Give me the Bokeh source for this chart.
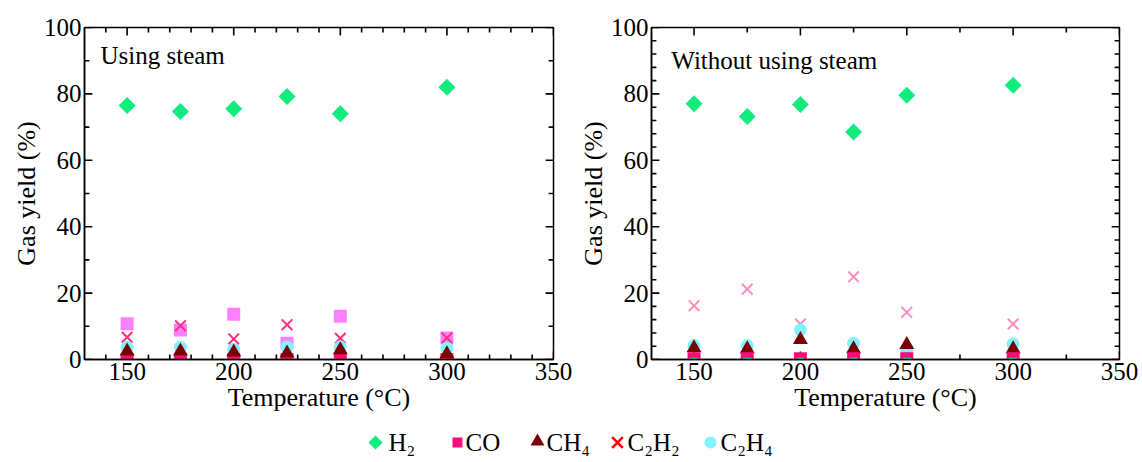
from bokeh.plotting import figure
from bokeh.models import Range1d, SingleIntervalTicker, Label
from bokeh.layouts import column, row
from bokeh.embed import file_html
from bokeh.resources import INLINE
from bokeh.core.properties import value

# ---------------- data ----------------
temps = [150, 175, 200, 225, 250, 300]

# Using steam (left panel)
steam_h2 = [76.5, 74.7, 75.5, 79.2, 74.0, 82.0]
steam_co = [0.0, 0.0, 0.0, 0.0, 0.0, 0.0]
steam_ch4 = [2.5, 2.5, 2.2, 1.9, 2.9, 1.7]
steam_c2h2 = [6.7, 10.2, 6.2, 10.5, 6.4, 6.5]
steam_c2h4 = [3.7, 3.7, 3.0, 3.8, 3.8, 3.4]
steam_extra_sq = [10.8, 8.9, 13.6, 4.9, 13.0, 6.5]

# Without using steam (right panel)
dry_h2 = [77.0, 73.2, 76.8, 68.5, 79.6, 82.6]
dry_co = [0.2, 0.2, 0.2, 0.2, 0.2, 0.2]
dry_ch4 = [3.5, 3.2, 6.0, 3.2, 4.5, 3.2]
dry_c2h2 = [16.2, 21.2, 10.7, 24.9, 14.2, 10.7]
dry_c2h4 = [4.2, 4.2, 8.9, 4.9, 3.0, 4.7]
dry_dash = [0.2, 0.2, 0.2, 0.2, 0.2, 0.2]

legend_labels = ["H\u2082", "CO", "CH\u2084", "C\u2082H\u2082", "C\u2082H\u2084"]
panel_titles = ["Using steam", "Without using steam"]
x_label = "Temperature (\u00b0C)"
y_label = "Gas yield (%)"

X_MIN, X_MAX, Y_MIN, Y_MAX = 130, 350, 0, 100

# ---------------- style ----------------
FONT = "Liberation Serif"
C_H2 = "#12ec7c"
C_CO = "#ff0c7c"
C_CH4 = "#7a0000"
C_C2H2 = "#ff0000"
C_C2H4 = "#80f3ff"
C_EXTRA = "#ff80ff"
C_X_LEFT = "#ff2f80"
C_X_RIGHT = "#ff8cbf"

# tick lengths in data units (about 8 px major, 5 px minor)
TX_MAJ, TX_MIN = 2.4, 1.5   # vertical ticks on top / bottom (y units)
TY_MAJ, TY_MIN = 3.7, 2.3   # horizontal ticks on left / right (x units)


def mirrored_ticks(p, x_first_minor, x_step_minor, y_step_minor):
    xs_all = list(range(x_first_minor, X_MAX + 1, x_step_minor))
    ys_all = list(range(Y_MIN, Y_MAX + 1, y_step_minor))
    x0, x1, y0, y1 = [], [], [], []
    for x in xs_all:
        L = TX_MAJ if x % 50 == 0 else TX_MIN
        x0 += [x, x]; x1 += [x, x]
        y0 += [Y_MIN, Y_MAX]; y1 += [Y_MIN + L, Y_MAX - L]
    for y in ys_all:
        L = TY_MAJ if y % 20 == 0 else TY_MIN
        x0 += [X_MIN, X_MAX]; x1 += [X_MIN + L, X_MAX - L]
        y0 += [y, y]; y1 += [y, y]
    p.segment(x0=x0, y0=y0, x1=x1, y1=y1, line_color="black", line_width=1.6)


def style_axes(p):
    bottom = p.below[0]
    left = p.left[0]
    bottom.ticker = SingleIntervalTicker(interval=50, num_minor_ticks=0)
    left.ticker = SingleIntervalTicker(interval=20, num_minor_ticks=0)
    for ax in [bottom, left]:
        ax.major_tick_in = 0
        ax.major_tick_out = 0
        ax.minor_tick_in = 0
        ax.minor_tick_out = 0
        ax.axis_line_color = "black"
        ax.axis_line_width = 1.5
        ax.major_label_text_font = FONT
        ax.major_label_text_font_size = "25px"
        ax.major_label_text_color = "black"
        ax.axis_label_text_font = FONT
        ax.axis_label_text_font_size = "26px"
        ax.axis_label_text_font_style = "normal"
        ax.axis_label_text_color = "black"
        ax.axis_label_standoff = 0
        ax.major_label_standoff = 3
    bottom.axis_label = x_label
    left.axis_label = y_label
    p.xgrid.visible = False
    p.ygrid.visible = False
    p.outline_line_color = "black"
    p.outline_line_width = 1.5


def make_panel(width, bl, br, h2, co, ch4, c2h2, c2h4, x_color, x_first_minor, x_step_minor,
               y_step_minor, title, tx, ty, extra_sq=None, dash=None, co_on_top=True):
    p = figure(width=width, height=422, x_range=Range1d(X_MIN, X_MAX), y_range=Range1d(Y_MIN, Y_MAX),
               output_backend="svg", toolbar_location=None,
               min_border_left=bl, min_border_right=br, min_border_top=27, min_border_bottom=63)
    style_axes(p)
    mirrored_ticks(p, x_first_minor, x_step_minor, y_step_minor)
    if extra_sq is not None:
        p.scatter(temps, extra_sq, marker="square", size=13, fill_color=C_EXTRA, line_color=None)
    if not co_on_top:
        p.scatter(temps, co, marker="square", size=13, fill_color=C_CO, line_color=None)
    p.scatter(temps, c2h2, marker="x", size=15, line_color=x_color, line_width=2)
    p.scatter(temps, c2h4, marker="circle", size=13, fill_color=C_C2H4, line_color=None)
    p.scatter(temps, ch4, marker="triangle", size=15, fill_color=C_CH4, line_color=None)
    if co_on_top:
        p.scatter(temps, co, marker="square", size=13, fill_color=C_CO, line_color=None)
    p.scatter(temps, h2, marker="square", angle=0.7854, size=12, fill_color=C_H2, line_color=None)
    if dash is not None:
        p.scatter(temps, dash, marker="dash", size=8, line_color=C_H2, line_width=2)
    p.add_layout(Label(x=tx, y=ty, text=title, text_font=FONT, text_font_size="25px",
                       text_baseline="middle", text_color="black"))
    return p


p1 = make_panel(575, 84, 22, steam_h2, steam_co, steam_ch4, steam_c2h2, steam_c2h4,
                C_X_LEFT, 140, 10, 10, panel_titles[0], 137.5, 91.5, extra_sq=steam_extra_sq,
                co_on_top=False)
p2 = make_panel(567, 72, 23, dry_h2, dry_co, dry_ch4, dry_c2h2, dry_c2h4,
                C_X_RIGHT, 150, 25, 4, panel_titles[1], 139.3, 90.0, dash=dry_dash)

# ---------------- legend strip ----------------
leg = figure(width=1142, height=40, x_range=Range1d(0, 1142), y_range=Range1d(0, 40),
             output_backend="svg", toolbar_location=None, x_axis_type=None, y_axis_type=None,
             min_border=0)
leg.outline_line_color = None
leg.xgrid.visible = False
leg.ygrid.visible = False
ly = 20
leg.scatter([375], [ly], marker="square", angle=0.7854, size=10, fill_color=C_H2, line_color=None)
leg.scatter([457], [ly], marker="square", size=10, fill_color=C_CO, line_color=None)
leg.scatter([537], [ly + 1], marker="triangle", size=14, fill_color=C_CH4, line_color=None)
leg.scatter([617], [ly], marker="x", size=15, line_color=C_C2H2, line_width=2.5)
leg.scatter([710], [ly], marker="circle", size=12, fill_color=C_C2H4, line_color=None)
leg.text(x=[388, 465, 546, 627, 720], y=[ly] * 5, text=legend_labels,
         text_font=value(FONT), text_font_size="25px", text_baseline="middle",
         text_align="left", text_color="black")

layout = column(row(p1, p2), leg)
open("out.html", "w").write(file_html(layout, INLINE))
